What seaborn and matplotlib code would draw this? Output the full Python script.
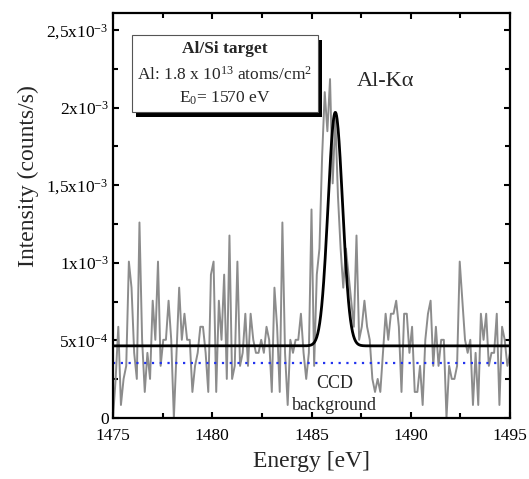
import matplotlib
matplotlib.use("Agg")
import matplotlib.pyplot as plt
from matplotlib.patches import Rectangle
from matplotlib.ticker import MultipleLocator
import seaborn as sns
import pandas as pd
import numpy as np

sns.set_style("ticks")
plt.rcParams["font.family"] = ["Liberation Serif", "DejaVu Serif"]
plt.rcParams["mathtext.fontset"] = "custom"
plt.rcParams["mathtext.rm"] = "Liberation Serif"
plt.rcParams["mathtext.it"] = "Liberation Serif:italic"
plt.rcParams["mathtext.bf"] = "Liberation Serif:bold"

# measured spectrum, in count levels (1 level = 8.4e-5 counts/s)
count_unit = 8.4e-5
levels = [
    0, 3, 7, 1, 3, 4, 12, 10, 5, 3, 15, 6, 2, 5, 3, 9, 6, 12, 4, 6,
    6, 9, 6, 0, 5, 10, 6, 8, 6, 6, 2, 4, 5, 7, 7, 5,
    2, 11, 12, 2, 9, 6, 11, 3, 14, 3, 4, 12, 4, 5, 8, 4, 8, 6, 5, 5,
    6, 5, 7, 6, 2, 10, 7, 2, 15, 5, 1, 6,
    5, 6, 6, 8, 5, 3, 5, 16, 4, 11, 13, 20, 25, 22, 26, 18, 23, 17, 13, 10,
    13, 11, 9, 7, 14, 6, 7, 9, 7, 6, 3, 2,
    3, 2, 5, 8, 6, 8, 8, 9, 7, 2,
    8, 8, 5, 7, 2, 2, 4, 1, 6, 8, 9, 4, 7, 4, 6, 6, 0, 4, 3, 3,
    4, 12, 9, 6, 5, 6, 1, 5, 1, 8, 6, 8, 4, 5, 5, 8, 1, 7, 6, 4, 5,
]
energy_start = 1475
energy_end = 1495

# gaussian fit of the Al-K alpha line
fit_offset = 4.65e-4
fit_amplitude = 1.505e-3
fit_center = 1486.2
fit_sigma = 0.365

ccd_background = 3.55e-4

x_ticks = [1475, 1480, 1485, 1490, 1495]
y_ticks = [0, 5e-4, 1e-3, 1.5e-3, 2e-3, 2.5e-3]
y_tick_labels = ["0", r"5x10$^{-4}$", r"1x10$^{-3}$", r"1,5x10$^{-3}$",
                 r"2x10$^{-3}$", r"2,5x10$^{-3}$"]

energy = np.linspace(energy_start, energy_end, len(levels))
spectrum = pd.DataFrame({"energy": energy,
                         "intensity": np.array(levels) * count_unit})

fit_energy = np.linspace(energy_start, energy_end, 800)
fit = pd.DataFrame({
    "energy": fit_energy,
    "intensity": fit_offset + fit_amplitude
    * np.exp(-0.5 * ((fit_energy - fit_center) / fit_sigma) ** 2),
})

fig = plt.figure(figsize=(5.29, 4.79), dpi=100)
ax = fig.add_axes([0.2136, 0.1273, 0.7505, 0.8456])

sns.lineplot(data=spectrum, x="energy", y="intensity", color="#8c8c8c",
             linewidth=1.4, ax=ax)
sns.lineplot(data=fit, x="energy", y="intensity", color="black",
             linewidth=2.0, ax=ax)
ax.axhline(ccd_background, color="#2233ee", linestyle=(0, (1, 2.5)),
           linewidth=1.6)

ax.set_xlim(energy_start, energy_end)
ax.set_ylim(0, 2.61e-3)
ax.set_xticks(x_ticks, labels=[str(t) for t in x_ticks])
ax.set_yticks(y_ticks, labels=y_tick_labels)
ax.xaxis.set_minor_locator(MultipleLocator(2.5))
ax.yaxis.set_minor_locator(MultipleLocator(2.5e-4))
ax.tick_params(which="both", direction="in", top=True, right=True,
               width=1.5, labelsize=12.5, colors="black")
ax.tick_params(which="major", length=4.5)
ax.tick_params(axis="x", which="major", pad=7)
ax.tick_params(axis="y", which="major", pad=3)
ax.tick_params(which="minor", length=3.5)
for spine in ax.spines.values():
    spine.set_linewidth(1.6)
    spine.set_color("black")

ax.set_xlabel("Energy [eV]", fontsize=17, labelpad=5)
ax.set_ylabel("Intensity (counts/s)", fontsize=17)
ax.yaxis.set_label_coords(-0.186, 0.598)

# info box with a drop shadow
px = 1 / 397, 1 / 405
ax.add_patch(Rectangle((0.048 + 4 * px[0], 0.756 - 5 * px[1]), 0.468, 0.19,
                       transform=ax.transAxes, facecolor="black",
                       edgecolor="none", zorder=4))
ax.add_patch(Rectangle((0.048, 0.756), 0.468, 0.19, transform=ax.transAxes,
                       facecolor="white", edgecolor="#555555", linewidth=0.8,
                       zorder=5))
ax.text(0.282, 0.910, "Al/Si target", transform=ax.transAxes, ha="center",
        va="center", fontsize=12.5, fontweight="bold", zorder=6)
ax.text(0.282, 0.848, r"Al: 1.8 x 10$^{13}$ atoms/cm$^{2}$",
        transform=ax.transAxes, ha="center", va="center", fontsize=12.5,
        zorder=6)
ax.text(0.282, 0.790, r"E$_{0}$= 1570 eV", transform=ax.transAxes,
        ha="center", va="center", fontsize=12.5, zorder=6)

ax.text(0.687, 0.832, "Al-Kα", transform=ax.transAxes, ha="center",
        va="center", fontsize=16)
ax.text(0.559, 0.058, "CCD\nbackground", transform=ax.transAxes,
        ha="center", va="center", fontsize=13, linespacing=1.4)

fig.savefig("out.png", dpi=100)
